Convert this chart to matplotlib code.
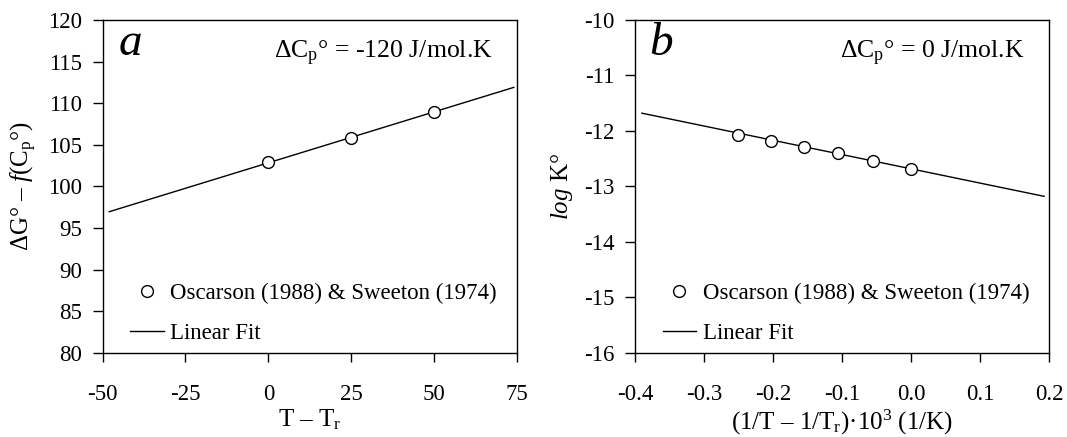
import matplotlib.pyplot as plt

plt.rcParams["font.family"] = ["Liberation Serif", "DejaVu Serif"]
plt.rcParams["mathtext.fontset"] = "custom"
plt.rcParams["mathtext.rm"] = "Liberation Serif"
plt.rcParams["mathtext.it"] = "Liberation Serif:italic"
plt.rcParams["axes.unicode_minus"] = False

# panel a: dG - f(Cp) vs T - Tr
a_x = [0, 25, 50]
a_y = [102.9, 105.8, 109.0]
a_fit_x = [-48, 74]
a_fit_y = [96.95, 111.9]

# panel b: log K vs (1/T - 1/Tr)*1e3
b_x = [-0.250, -0.203, -0.155, -0.106, -0.055, 0.0]
b_y = [-12.07, -12.18, -12.29, -12.40, -12.54, -12.68]
b_fit_x = [-0.39, 0.193]
b_fit_y = [-11.68, -13.18]

fig = plt.figure(figsize=(10.67, 4.37), dpi=100)
ax1 = fig.add_axes([0.0961, 0.1929, 0.3885, 0.7613])
ax2 = fig.add_axes([0.5951, 0.1929, 0.3880, 0.7613])

tick_fs = 16.5
leg_fs = 16.5
lab_fs = 18
note_fs = 18.5


def style(ax):
    for s in ax.spines.values():
        s.set_linewidth(1.0)
    ax.tick_params(direction="out", width=1.0, labelsize=tick_fs,
                   top=False, right=False)
    ax.tick_params(axis="x", length=6.5, pad=16)
    ax.tick_params(axis="y", length=7.5, pad=7)


def panel(ax, x, y, fx, fy):
    ax.plot(x, y, "o", mfc="white", mec="black", mew=1.0, ms=8.5, zorder=3,
            label="Oscarson (1988) & Sweeton (1974)")
    ax.plot(fx, fy, "-", color="black", lw=1.0, label="Linear Fit")
    ax.legend(loc="lower left", bbox_to_anchor=(0.045, 0.0), frameon=False,
              fontsize=leg_fs, handlelength=1.45, handletextpad=0.3,
              labelspacing=0.8, borderaxespad=0.0, borderpad=0.4)


panel(ax1, a_x, a_y, a_fit_x, a_fit_y)
ax1.set_xlim(-50, 75)
ax1.set_ylim(80, 120)
ax1.set_xticks([-50, -25, 0, 25, 50, 75])
ax1.set_yticks(range(80, 121, 5))
ax1.set_xlabel(r"T – T$_\mathrm{r}$", fontsize=lab_fs, labelpad=2)
ax1.set_ylabel(r"$\Delta$G° – $f$(C$_\mathrm{p}$°)", fontsize=lab_fs, labelpad=7)
ax1.text(0.038, 0.895, "$a$", transform=ax1.transAxes, fontsize=34)
ax1.text(0.942, 0.886, r"$\Delta$C$_\mathrm{p}$° = -120 J/mol.K",
         transform=ax1.transAxes, fontsize=note_fs, ha="right")
style(ax1)

panel(ax2, b_x, b_y, b_fit_x, b_fit_y)
ax2.set_xlim(-0.4, 0.2)
ax2.set_ylim(-16, -10)
ax2.set_xticks([-0.4, -0.3, -0.2, -0.1, 0.0, 0.1, 0.2])
ax2.set_xticklabels(["-0.4", "-0.3", "-0.2", "-0.1", "0.0", "0.1", "0.2"])
ax2.set_yticks(range(-16, -9))
ax2.set_yticklabels([str(v) for v in range(-16, -9)])
ax2.set_xlabel(r"(1/T – 1/T$_\mathrm{r}$)·10$^3$ (1/K)", fontsize=lab_fs, labelpad=2)
ax2.set_ylabel(r"$log$ K°", fontsize=lab_fs, labelpad=7)
ax2.text(0.034, 0.895, "$b$", transform=ax2.transAxes, fontsize=34)
ax2.text(0.942, 0.886, r"$\Delta$C$_\mathrm{p}$° = 0 J/mol.K",
         transform=ax2.transAxes, fontsize=note_fs, ha="right")
style(ax2)

fig.savefig("out.png", dpi=100)
